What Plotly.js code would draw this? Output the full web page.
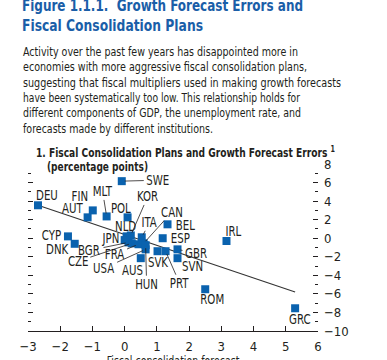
<!DOCTYPE html>
<html><head><meta charset="utf-8">
<script src="https://cdn.plot.ly/plotly-3.0.1.min.js"></script>
<style>html,body{margin:0;padding:0;background:#fff;overflow:hidden}#chart{width:387px;height:360px}</style>
</head><body><div id="chart"></div>
<script>
// ---- data ----
const countries = ['SWE','DEU','FIN','AUT','MLT','POL','KOR','NLD','ITA','CAN','BEL','ESP','IRL','GBR','SVN','SVK','PRT','ROM','GRC','CYP','DNK','BGR','CZE','JPN','FRA','USA','AUS','HUN'];
const consolidation = [-0.09,-2.69,-0.99,-1.15,-0.56,0.09,0.19,0.06,0.53,0.59,1.33,1.18,3.16,1.64,1.64,1.02,1.27,2.5,5.29,-1.76,-1.55,0.12,0.22,0.0,0.43,0.65,0.5,0.65];
const forecastError = [6.15,3.55,3.0,2.25,2.35,2.25,0.3,0.2,0.1,-0.55,1.5,0.0,-0.3,-1.2,-2.15,-1.4,-1.4,-5.5,-7.55,0.2,-0.6,-0.45,-0.55,-0.2,-0.65,-1.2,-2.15,-0.75];
const fitX = [-2.69, 5.29];
const fitY = [3.55, -5.8];
const xTickVals = [-3,-2,-1,0,1,2,3,4,5,6];
const yTickVals = [-10,-8,-6,-4,-2,0,2,4,6,8];

// ---- label placement (pixel offsets from point; true = leader line) ----
const labelOffsets = {
  SWE:[36,-1,true], DEU:[9,-10,false], FIN:[-13,-14,false], AUT:[-15,-9,false],
  MLT:[-4,-25,true], POL:[-7,-9,false], KOR:[17,-39,true], NLD:[-1,-10,false],
  ITA:[8,-15,true], CAN:[28,-31,true], BEL:[18,1,false], ESP:[18,0,false],
  IRL:[7,-10,false], GBR:[19,4,true], SVN:[15,8,false], SVK:[1,11,false],
  PRT:[14,32,true], ROM:[7,10,false], GRC:[5,11,false], CYP:[-16,-1,false],
  DNK:[-17,5,false], BGR:[-39,8,true], CZE:[-54,18,true], JPN:[-14,-2,false],
  FRA:[-24,10,true], USA:[-42,19,true], AUS:[-8,12,false], HUN:[1,39,true]
};

const FONT = '"DejaVu Sans Condensed","DejaVu Sans",sans-serif';
const INK = '#231f20';
const BLUE = '#0a62ae';
const TITLE_BLUE = '#1a5ea8';
const L=28, R=318, T=164, B=331, W=387, H=360;
const px = x => (x-L)/(R-L);
const py = y => (B-y)/(B-T);

const annotations = [];
const fit = [];   // per annotation: target pixel width or scale factor for condensing text
countries.forEach((c,i)=>{
  const o = labelOffsets[c];
  annotations.push({
    x: consolidation[i], y: forecastError[i], xref:'x', yref:'y',
    text: c, showarrow: true, ax: o[0], ay: o[1],
    arrowhead: 0, arrowwidth: 0.8, standoff: 3, borderpad: 0,
    arrowcolor: o[2] ? INK : 'rgba(0,0,0,0)',
    font: {family: FONT, size: 13.5, color: INK}
  });
  fit.push({scale: 0.84});
});

function textAt(x, y, text, size, color, bold, width){
  annotations.push({
    xref:'paper', yref:'paper', x: px(x), y: py(y), xanchor:'left', yanchor:'middle', align:'left',
    text: bold ? '<b>'+text+'</b>' : text, showarrow:false, borderpad: 0,
    font:{family: FONT, size: size, color: color}
  });
  fit.push({width: width});
}
textAt(21, 5.5, 'Figure 1.1.1.  Growth Forecast Errors and', 16.5, TITLE_BLUE, true, 281);
textAt(21, 25, 'Fiscal Consolidation Plans', 16.5, TITLE_BLUE, true, 181);
const body = [
  'Activity over the past few years has disappointed more in',
  'economies with more aggressive fiscal consolidation plans,',
  'suggesting that fiscal multipliers used in making growth forecasts',
  'have been systematically too low. This relationship holds for',
  'different components of GDP, the unemployment rate, and',
  'forecasts made by different institutions.'
];
const bodyWidths = [275, 284, 318, 277, 278, 190];
body.forEach((t,k)=> textAt(22, 52 + k*15.3, t, 12.0, INK, false, bodyWidths[k]));
textAt(35, 151.5, '1. Fiscal Consolidation Plans and Growth Forecast Errors <sup>1</sup>', 11.8, INK, true, 299);
textAt(46, 167, '(percentage points)', 12, INK, true, 101);
annotations.push({
  xref:'paper', yref:'paper', x: px(173), y: py(352), xanchor:'center', yanchor:'top',
  text:'Fiscal consolidation forecast', showarrow:false, borderpad: 0,
  font:{family: FONT, size: 12.5, color: INK}
});
fit.push({scale: 0.84});

const traces = [
  {x: fitX, y: fitY, type:'scatter', mode:'lines', line:{color:'#333333', width:1.1}, hoverinfo:'skip', cliponaxis:false},
  {x: consolidation, y: forecastError, text: countries, type:'scatter', mode:'markers',
   marker:{symbol:'square', size:8, color: BLUE}, cliponaxis:false}
];

const layout = {
  width: W, height: H,
  margin:{l:L, r:W-R, t:T, b:H-B, pad:0},
  paper_bgcolor:'#fff', plot_bgcolor:'#fff',
  showlegend:false,
  font:{family: FONT, color: INK},
  xaxis:{
    range:[-3,6], tickvals: xTickVals, ticks:'inside', ticklen:5, tickwidth:1, tickcolor: INK,
    showline:true, linecolor: INK, linewidth:1, showgrid:false, zeroline:false,
    tickfont:{family: FONT, size:13, color: INK}, ticklabelstandoff: 3, fixedrange:true
  },
  yaxis:{
    range:[-10,8], tickvals: yTickVals, side:'right', ticks:'inside', ticklen:5, tickwidth:1, tickcolor: INK,
    mirror:'ticks', showline:false, showgrid:false, zeroline:false,
    minor:{ticks:'inside', dtick:1, ticklen:3, tickwidth:1, tickcolor: INK, showgrid:false},
    tickfont:{family: FONT, size:13, color: INK}, ticklabelstandoff: 5, fixedrange:true
  },
  annotations: annotations
};

Plotly.newPlot('chart', traces, layout, {staticPlot:true, displayModeBar:false}).then(gd=>{
  gd.querySelectorAll('g.annotation').forEach(g=>{
    const i = +g.getAttribute('data-index');
    const f = fit[i];
    const t = g.querySelector('text.annotation-text');
    if(!f || !t) return;
    const w = t.getComputedTextLength();
    const target = f.width ? f.width : w * f.scale;
    if(w > 0 && target){
      t.setAttribute('textLength', target.toFixed(1));
      t.setAttribute('lengthAdjust', 'spacingAndGlyphs');
    }
  });
});
</script></body></html>
